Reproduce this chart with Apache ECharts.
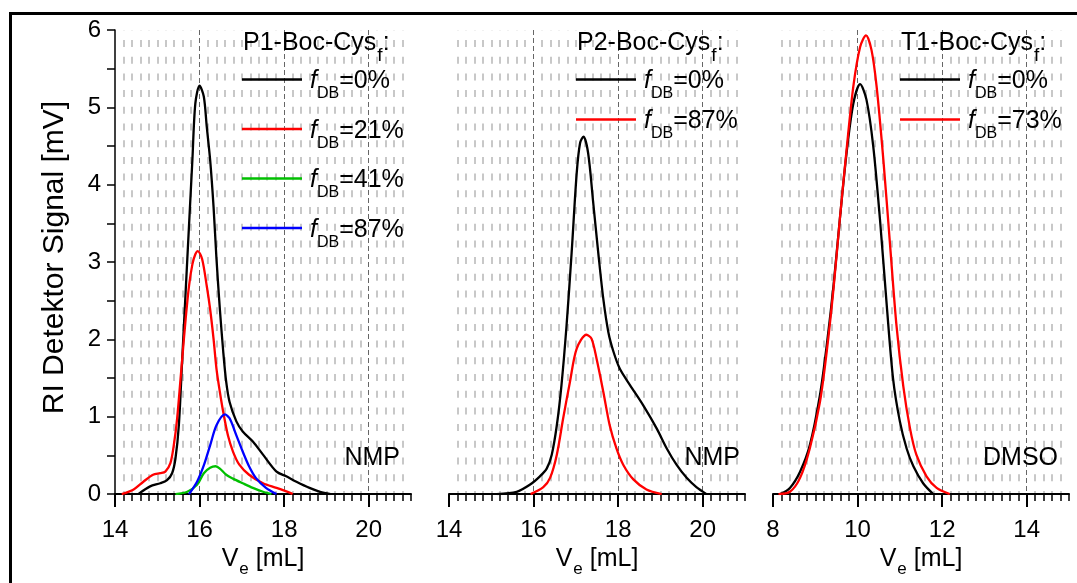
<!DOCTYPE html>
<html><head><meta charset="utf-8">
<script src="https://cdn.jsdelivr.net/npm/echarts@6/dist/echarts.min.js"></script>
<style>html,body{margin:0;padding:0;background:#fff}#c{width:1077px;height:583px}</style>
</head><body><div id="c"></div>
<script>
// ---------- data (Ve [mL], RI signal [mV]) ----------
const p1_f0 = [[14.55,0],[14.83,0.10],[15.07,0.14],[15.23,0.18],[15.35,0.27],[15.43,0.46],[15.51,0.89],[15.59,1.75],[15.67,2.61],[15.75,3.47],[15.83,4.32],[15.90,5.05],[16.0,5.28],[16.10,5.14],[16.17,4.75],[16.25,4.32],[16.33,3.72],[16.40,3.04],[16.48,2.39],[16.56,1.84],[16.63,1.45],[16.71,1.19],[16.87,0.94],[17.02,0.81],[17.26,0.68],[17.50,0.51],[17.82,0.29],[18.05,0.23],[18.29,0.16],[18.6,0.08],[18.85,0.03],[19.1,0]];
const p1_f21 = [[14.16,0],[14.44,0.06],[14.67,0.16],[14.9,0.25],[15.07,0.27],[15.19,0.29],[15.31,0.40],[15.39,0.63],[15.47,0.98],[15.55,1.49],[15.59,1.75],[15.67,2.26],[15.75,2.69],[15.83,2.97],[15.9,3.10],[15.96,3.14],[16.06,3.04],[16.17,2.69],[16.25,2.39],[16.33,2.01],[16.40,1.62],[16.48,1.32],[16.56,1.06],[16.67,0.76],[16.79,0.55],[16.94,0.38],[17.17,0.25],[17.5,0.14],[17.82,0.08],[18.17,0.01],[18.2,0]];
const p1_f41 = [[15.43,0],[15.71,0.03],[15.94,0.12],[16.1,0.27],[16.25,0.34],[16.38,0.36],[16.48,0.33],[16.63,0.25],[16.79,0.20],[17.02,0.14],[17.26,0.08],[17.5,0.03],[17.7,0]];
const p1_f87 = [[15.75,0],[15.94,0.16],[16.10,0.37],[16.25,0.63],[16.40,0.89],[16.6,1.03],[16.71,0.98],[16.87,0.76],[17.02,0.55],[17.17,0.36],[17.33,0.21],[17.57,0.08],[17.82,0]];
const p2_f0 = [[15.13,0],[15.6,0.03],[15.91,0.12],[16.15,0.23],[16.31,0.33],[16.43,0.51],[16.55,0.89],[16.66,1.41],[16.78,2.18],[16.9,3.12],[17.02,4.15],[17.1,4.54],[17.18,4.62],[17.29,4.41],[17.41,3.77],[17.53,3.12],[17.65,2.52],[17.77,2.09],[17.89,1.84],[18.04,1.62],[18.28,1.41],[18.59,1.15],[18.91,0.85],[19.15,0.59],[19.38,0.38],[19.62,0.21],[19.85,0.09],[20.09,0]];
const p2_f87 = [[15.93,0],[16.23,0.09],[16.39,0.21],[16.55,0.51],[16.70,0.98],[16.86,1.45],[17.02,1.88],[17.25,2.06],[17.37,2.01],[17.49,1.75],[17.65,1.32],[17.8,0.89],[17.96,0.59],[18.12,0.38],[18.36,0.19],[18.67,0.06],[19.03,0]];
const t1_f0 = [[8.17,0],[8.40,0.08],[8.64,0.29],[8.87,0.63],[9.11,1.28],[9.27,1.92],[9.43,2.69],[9.58,3.55],[9.74,4.41],[9.9,5.05],[10.06,5.30],[10.21,5.10],[10.37,4.50],[10.53,3.55],[10.69,2.44],[10.84,1.49],[11.0,0.94],[11.16,0.59],[11.32,0.36],[11.55,0.14],[11.79,0]];
const t1_f73 = [[8.13,0],[8.40,0.03],[8.64,0.21],[8.87,0.59],[9.11,1.19],[9.27,1.84],[9.43,2.65],[9.58,3.55],[9.74,4.45],[9.9,5.27],[10.06,5.78],[10.2,5.93],[10.33,5.74],[10.45,5.27],[10.61,4.32],[10.77,3.21],[10.92,2.18],[11.08,1.40],[11.24,0.85],[11.39,0.51],[11.63,0.23],[11.87,0.08],[12.18,0]];

const panelTitles = ['P1-Boc-Cys', 'P2-Boc-Cys', 'T1-Boc-Cys'];
const solvents = ['NMP', 'NMP', 'DMSO'];
const xMins = [14, 14, 8];
const xMaxs = [21, 21, 15];
const xLabelTicks = [[14,16,18,20],[14,16,18,20],[8,10,12,14]];
const yTicks = [0, 6];
const seriesDefs = [
  {panel:0, name:'P1 0%',  pct:'0%',  color:'#000000', data:p1_f0},
  {panel:0, name:'P1 21%', pct:'21%', color:'#ff0000', data:p1_f21},
  {panel:0, name:'P1 41%', pct:'41%', color:'#00c000', data:p1_f41},
  {panel:0, name:'P1 87%', pct:'87%', color:'#0000ff', data:p1_f87},
  {panel:1, name:'P2 0%',  pct:'0%',  color:'#000000', data:p2_f0},
  {panel:1, name:'P2 87%', pct:'87%', color:'#ff0000', data:p2_f87},
  {panel:2, name:'T1 0%',  pct:'0%',  color:'#000000', data:t1_f0},
  {panel:2, name:'T1 73%', pct:'73%', color:'#ff0000', data:t1_f73}
];

// ---------- layout ----------
const FONT = '"Liberation Sans", Arial, Helvetica, sans-serif';
const gridLefts = [115, 449, 773];
const GW = 296, GT = 30, GH = 466;
const legendSpacing = [49.5, 40, 40];
const legendStartY = 80;

const grids = gridLefts.map(l => ({left:l, top:GT, width:GW, height:GH, containLabel:false}));
const minorColors = ['rgba(0,0,0,0)'].concat(new Array(9).fill('#c8c8c8'));

const xAxes = [], yAxes = [];
for (let i = 0; i < 3; i++) {
  xAxes.push({
    gridIndex:i, type:'value', position:'bottom', min:xMins[i], max:xMaxs[i], interval:2,
    axisLine:{show:true, onZero:false, lineStyle:{color:'#000', width:2}},
    axisTick:{show:true, customValues:xLabelTicks[i], length:13, lineStyle:{color:'#000', width:2}},
    axisLabel:{customValues:xLabelTicks[i], fontSize:24, color:'#000', fontFamily:FONT, margin:24},
    splitLine:{show:true, showMinLine:false, lineStyle:{color:'#666', width:1, type:[5,3]}},
    name:'{v|V}{s|e}{v| [mL]}', nameLocation:'middle', nameGap:49,
    nameTextStyle:{color:'#000', fontFamily:FONT, rich:{
      v:{fontSize:25, fontFamily:FONT, color:'#000', verticalAlign:'top'},
      s:{fontSize:17, fontFamily:FONT, color:'#000', verticalAlign:'top', padding:[14,0,0,1]}
    }},
    z:3
  });
  xAxes.push({
    gridIndex:i, type:'value', position:'bottom', min:xMins[i], max:xMaxs[i], interval:0.2,
    axisLine:{show:false, onZero:false},
    axisTick:{show:true, length:7, lineStyle:{color:'#000', width:1.5}},
    axisLabel:{show:false},
    splitLine:{show:true, showMaxLine:false, lineStyle:{color:minorColors, width:2, type:[7,9.7], dashOffset:6.7}}
  });
  yAxes.push({
    gridIndex:i, type:'value', min:yTicks[0], max:yTicks[1], interval:1, show:i===0,
    axisLine:{show:true, lineStyle:{color:'#000', width:1.5}},
    axisTick:{show:true, length:8, lineStyle:{color:'#000', width:1.5}},
    minorTick:{show:true, splitNumber:2, length:8, lineStyle:{color:'#000', width:1.5}},
    axisLabel:{fontSize:24, color:'#000', fontFamily:FONT, margin:14},
    splitLine:{show:false},
    name:'RI Detektor Signal [mV]', nameLocation:'middle', nameGap:45,
    nameTextStyle:{fontSize:30, color:'#000', fontFamily:FONT, padding:[0,0,0,9]}
  });
}

const series = seriesDefs.map(d => ({
  type:'line', name:d.name, xAxisIndex:d.panel*2, yAxisIndex:d.panel,
  data:d.data, showSymbol:false, smooth:0.3, color:d.color,
  lineStyle:{color:d.color, width:2.3}, z:5, animation:false
}));

const legendRich = {
  f:{fontSize:25, fontStyle:'italic', fontFamily:FONT, color:'#000', verticalAlign:'top', padding:[12,0,0,3]},
  s:{fontSize:16, fontFamily:FONT, color:'#000', verticalAlign:'top', padding:[29,0,0,0]},
  n:{fontSize:25, fontFamily:FONT, color:'#000', verticalAlign:'top', padding:[12,0,0,0]}
};
const pctByName = {};
seriesDefs.forEach(d => pctByName[d.name] = d.pct);
const legends = [];
const countPerPanel = [0,0,0];
seriesDefs.forEach(d => {
  const k = countPerPanel[d.panel]++;
  const y = legendStartY + k * legendSpacing[d.panel];
  legends.push({
    data:[d.name], left:gridLefts[d.panel] + 127, top:y - 11, padding:0,
    orient:'vertical', icon:'rect', itemWidth:60, itemHeight:2.5, selectedMode:false,
    formatter: n => '{f|f}{s|DB}{n|=' + pctByName[n] + '}',
    textStyle:{rich:legendRich}
  });
});

const titleRich = {
  a:{fontSize:25, fontFamily:FONT, color:'#000', verticalAlign:'top'},
  s:{fontSize:19, fontFamily:FONT, color:'#000', verticalAlign:'top', padding:[15,0,0,1]}
};
const graphics = [
  {type:'line', shape:{x1:9, y1:13.5, x2:1077, y2:13.5}, style:{stroke:'#000', lineWidth:3}, z:10},
  {type:'line', shape:{x1:10.5, y1:12, x2:10.5, y2:583}, style:{stroke:'#000', lineWidth:3}, z:10}
];
for (let i = 0; i < 3; i++) {
  graphics.push({type:'text', x:gridLefts[i] + 128, y:31, z:10,
    style:{text:'{a|' + panelTitles[i] + '}{s|f}{a|:}', rich:titleRich, verticalAlign:'top', align:'left'}});
  graphics.push({type:'text', x:gridLefts[i] + GW - (i===1 ? 5 : 11), y:458, z:10,
    style:{text:solvents[i], fontSize:25, fontFamily:FONT, fill:'#000', align:'right', verticalAlign:'middle'}});
}

const chart = echarts.init(document.getElementById('c'), null, {renderer:'canvas'});
chart.setOption({
  animation:false, backgroundColor:'#fff',
  grid:grids, xAxis:xAxes, yAxis:yAxes, series:series, legend:legends, graphic:graphics
});
</script></body></html>
